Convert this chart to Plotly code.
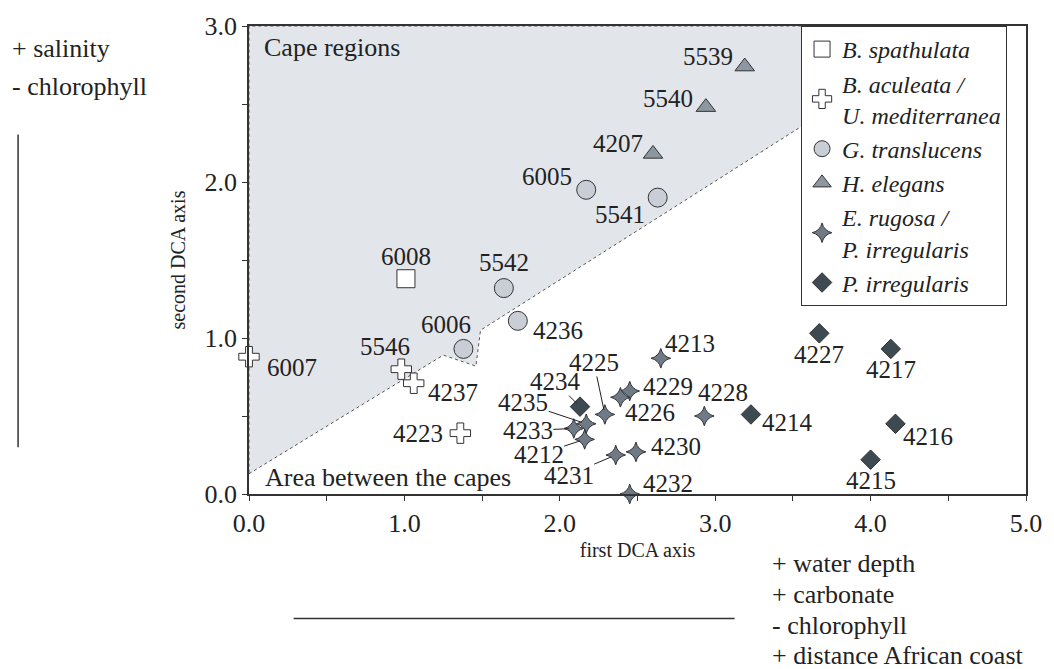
import plotly.graph_objects as go

# ---------------- data ----------------
spath_names = ["6008"]
spath_x = [1.01]
spath_y = [1.38]

acul_names = ["6007", "5546", "4237", "4223"]
acul_x = [0.00, 0.98, 1.06, 1.36]
acul_y = [0.88, 0.80, 0.71, 0.39]

transl_names = ["6005", "5541", "5542", "4236", "6006"]
transl_x = [2.17, 2.63, 1.64, 1.73, 1.38]
transl_y = [1.95, 1.90, 1.32, 1.11, 0.93]

eleg_names = ["5539", "5540", "4207"]
eleg_x = [3.19, 2.94, 2.60]
eleg_y = [2.74, 2.48, 2.18]

rug_names = ["4213", "4229", "4226", "4225", "4235", "4233", "4212", "4228", "4230", "4231", "4232"]
rug_x = [2.65, 2.45, 2.39, 2.29, 2.17, 2.09, 2.16, 2.93, 2.49, 2.36, 2.45]
rug_y = [0.87, 0.66, 0.62, 0.51, 0.45, 0.42, 0.35, 0.50, 0.27, 0.25, 0.00]

irr_names = ["4234", "4214", "4227", "4217", "4216", "4215"]
irr_x = [2.13, 3.23, 3.67, 4.13, 4.16, 4.00]
irr_y = [0.56, 0.51, 1.03, 0.93, 0.45, 0.22]

# boundary of the "Cape regions" area
cape_x = [0.0, 1.25, 1.46, 1.49, 3.64, 4.58, 0.0, 0.0]
cape_y = [0.13, 0.89, 0.82, 1.05, 2.41, 3.0, 3.0, 0.13]

x_ticks = [0, 1, 2, 3, 4, 5]
x_ticklabels = ["0.0", "1.0", "2.0", "3.0", "4.0", "5.0"]
y_ticks = [0, 1, 2, 3]
y_ticklabels = ["0.0", "1.0", "2.0", "3.0"]

left_gradient = ["+ salinity", "- chlorophyll"]
bottom_gradient = ["+ water depth", "+ carbonate", "- chlorophyll", "+ distance African coast"]

# ---------------- styles ----------------
FONT = "Liberation Serif, Times New Roman, serif"
INK = "#222222"
LINE = "#333333"
TEXT_SIZE = 26
LABEL_SIZE = 25

# label offsets in pixels (dx right, dy down)
label_off = {
    "5539": (-37, -10), "5540": (-38, -9), "4207": (-35, -10), "6005": (-39, -13),
    "5541": (-38, 17), "6008": (0, -22), "5542": (0, -26), "4236": (40, 10),
    "6006": (-17, -24), "6007": (43, 11), "5546": (-16, -23), "4237": (39, 9),
    "4223": (-42, 0), "4213": (29, -15), "4229": (38, -5), "4226": (30, 15),
    "4228": (19, -24), "4214": (37, 8), "4230": (40, -5), "4232": (38, -11),
    "4227": (0, 21), "4217": (0, 21), "4216": (33, 13), "4215": (0, 21),
}
# leader-line labels: text offset in pixels from the point
leader_off = {
    "4225": (-11, -52), "4234": (-25, -25), "4235": (-63, -21),
    "4233": (-46, 2), "4212": (-46, 15), "4231": (-47, 20),
}

fig = go.Figure()

fig.add_trace(go.Scatter(
    x=cape_x, y=cape_y, mode="lines", fill="toself",
    fillcolor="#e2e5ea", line=dict(color="#555555", width=1, dash="dot"),
    showlegend=False, hoverinfo="skip"))

series = [
    ("<i>B. spathulata</i>", spath_names, spath_x, spath_y, "square", 18, "#ffffff"),
    ("<i>B. aculeata /</i><br><i>U. mediterranea</i>", acul_names, acul_x, acul_y, "cross", 17, "#ffffff"),
    ("<i>G. translucens</i>", transl_names, transl_x, transl_y, "circle", 19, "#c9cdd6"),
    ("<i>H. elegans</i>", eleg_names, eleg_x, eleg_y, "triangle-up", 17, "#8d97a1"),
    ("<i>E. rugosa /</i><br><i>P. irregularis</i>", rug_names, rug_x, rug_y, "star-diamond", 14, "#6e7b87"),
    ("<i>P. irregularis</i>", irr_names, irr_x, irr_y, "diamond", 15, "#3d4a52"),
]

for name, names, xs, ys, sym, size, color in series:
    fig.add_trace(go.Scatter(
        x=xs, y=ys, mode="markers", name=name, text=names,
        marker=dict(symbol=sym, size=size, color=color,
                    line=dict(color=LINE, width=1)),
        cliponaxis=False))
    for n, xv, yv in zip(names, xs, ys):
        if n in leader_off:
            dx, dy = leader_off[n]
            fig.add_annotation(x=xv, y=yv, text=n, showarrow=True, ax=dx, ay=dy,
                               arrowhead=0, arrowwidth=1, arrowcolor=INK,
                               standoff=5, borderpad=0,
                               font=dict(family=FONT, size=LABEL_SIZE, color=INK))
        else:
            dx, dy = label_off.get(n, (0, -20))
            fig.add_annotation(x=xv, y=yv, text=n, showarrow=False,
                               xshift=dx, yshift=-dy,
                               font=dict(family=FONT, size=LABEL_SIZE, color=INK))

# region labels
fig.add_annotation(xref="paper", yref="paper", x=0.017, y=0.955, text="Cape regions",
                   showarrow=False, xanchor="left", yanchor="middle",
                   font=dict(family=FONT, size=TEXT_SIZE, color=INK))
fig.add_annotation(xref="paper", yref="paper", x=0.018, y=0.036, text="Area between the capes",
                   showarrow=False, xanchor="left", yanchor="middle",
                   font=dict(family=FONT, size=TEXT_SIZE, color=INK))

# environmental gradient labels
for i, t in enumerate(left_gradient):
    fig.add_annotation(xref="paper", yref="paper", x=-0.3074, y=0.951 - i * 0.081, text=t,
                       showarrow=False, xanchor="left", yanchor="middle",
                       font=dict(family=FONT, size=TEXT_SIZE, color=INK))
for i, t in enumerate(bottom_gradient):
    fig.add_annotation(xref="paper", yref="paper", x=0.671, y=-0.149 - i * 0.0655, text=t,
                       showarrow=False, xanchor="left", yanchor="middle",
                       font=dict(family=FONT, size=TEXT_SIZE, color=INK))

fig.add_shape(type="line", xref="paper", yref="paper", x0=-0.2972, x1=-0.2972, y0=0.10, y1=0.768,
              line=dict(color=LINE, width=1.5))
fig.add_shape(type="line", xref="paper", yref="paper", x0=0.0574, x1=0.625, y0=-0.266, y1=-0.266,
              line=dict(color=LINE, width=1.5))

axis_common = dict(
    showline=True, linecolor=LINE, linewidth=1.5, mirror=True,
    ticks="outside", ticklen=5, tickcolor=LINE, tickwidth=1,
    showgrid=False, zeroline=False,
    tickfont=dict(family=FONT, size=26, color=INK),
    minor=dict(dtick=0.5, ticks="outside", ticklen=5, tickcolor=LINE, showgrid=False),
)

fig.update_layout(
    width=1054, height=669,
    margin=dict(l=249, r=21, t=24, b=175, pad=0),
    paper_bgcolor="white", plot_bgcolor="white",
    xaxis=dict(range=[0, 5], tickvals=x_ticks, ticktext=x_ticklabels,
               title=dict(text="first DCA axis", standoff=6,
                          font=dict(family=FONT, size=20, color=INK)),
               **axis_common),
    yaxis=dict(range=[0, 3], tickvals=y_ticks, ticktext=y_ticklabels,
               title=dict(text="second DCA axis", standoff=14,
                          font=dict(family=FONT, size=20, color=INK)),
               **axis_common),
    legend=dict(x=0.7105, y=1.0, xanchor="left", yanchor="top",
                bgcolor="white", bordercolor=LINE, borderwidth=1,
                font=dict(family=FONT, size=24, color=INK),
                tracegroupgap=0, itemwidth=30),
    showlegend=True,
)

fig.write_html("out.html")
